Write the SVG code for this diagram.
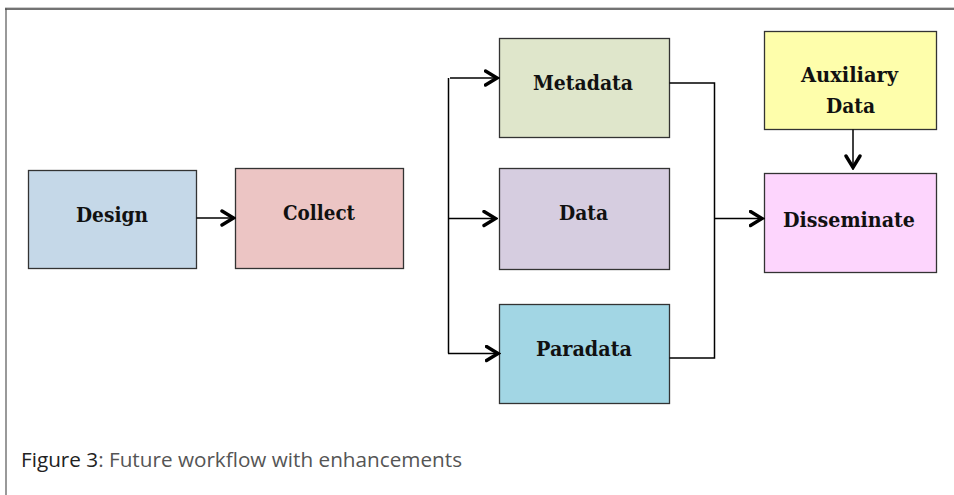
<svg xmlns="http://www.w3.org/2000/svg" width="954" height="495" viewBox="0 0 954 495">
  <defs>
    <marker id="chev" viewBox="0 0 16 18" refX="13.5" refY="9" markerWidth="16" markerHeight="18" markerUnits="userSpaceOnUse" orient="auto">
      <path d="M2,2 L13.5,9 L2,16" fill="none" stroke="#000" stroke-width="3.4" stroke-linecap="round" stroke-linejoin="miter"/>
    </marker>
    <style>
      .box { stroke: #333; stroke-width: 1.3; }
      .lbl { font-family: "DejaVu Serif", "Liberation Serif", serif; font-weight: bold; font-size: 20px; fill: #111; text-anchor: middle; }
      .wire { fill: none; stroke: #000; stroke-width: 1.5; }
      .cap { font-family: "Open Sans", "Noto Sans", sans-serif; font-size: 20.5px; }
    </style>
  </defs>
  <rect width="954" height="495" fill="#fff"/>

  <!-- frame -->
  <line x1="6" y1="8.5" x2="6" y2="495" stroke="#999" stroke-width="2"/>
  <line x1="5" y1="9" x2="954" y2="9" stroke="#444" stroke-width="1.5"/>
  <line x1="5" y1="7.5" x2="954" y2="7.5" stroke="#ccc" stroke-width="1"/>

  <g id="design">
    <rect class="box" x="28.5" y="170.5" width="168" height="98" fill="#c5d8e8"/>
    <text class="lbl" x="112" y="222" textLength="72" lengthAdjust="spacingAndGlyphs">Design</text>
  </g>
  <g id="collect">
    <rect class="box" x="235.5" y="168.5" width="168" height="100" fill="#ecc5c4"/>
    <text class="lbl" x="319" y="220" textLength="72" lengthAdjust="spacingAndGlyphs">Collect</text>
  </g>
  <g id="metadata">
    <rect class="box" x="499.5" y="38.5" width="170" height="99" fill="#dfe6cb"/>
    <text class="lbl" x="583" y="90" textLength="100" lengthAdjust="spacingAndGlyphs">Metadata</text>
  </g>
  <g id="data">
    <rect class="box" x="499.5" y="168.5" width="170" height="101" fill="#d6cde0"/>
    <text class="lbl" x="583.5" y="220" textLength="49" lengthAdjust="spacingAndGlyphs">Data</text>
  </g>
  <g id="paradata">
    <rect class="box" x="499.5" y="304.5" width="170" height="99" fill="#a2d6e4"/>
    <text class="lbl" x="584" y="356" textLength="96" lengthAdjust="spacingAndGlyphs">Paradata</text>
  </g>
  <g id="auxiliary">
    <rect class="box" x="764.5" y="31.5" width="172" height="98" fill="#fefeab"/>
    <text class="lbl" x="849.5" y="82" textLength="97" lengthAdjust="spacingAndGlyphs">Auxiliary</text>
    <text class="lbl" x="850.5" y="113" textLength="49" lengthAdjust="spacingAndGlyphs">Data</text>
  </g>
  <g id="disseminate">
    <rect class="box" x="764.5" y="173.5" width="172" height="99" fill="#fdd5fd"/>
    <text class="lbl" x="849" y="227" textLength="132" lengthAdjust="spacingAndGlyphs">Disseminate</text>
  </g>

  <g id="connectors">
    <line class="wire" x1="196.5" y1="218" x2="233.5" y2="218" marker-end="url(#chev)"/>
    <!-- fan-out bus -->
    <line class="wire" x1="448.5" y1="78" x2="448.5" y2="353.5"/>
    <line class="wire" x1="450" y1="78" x2="497" y2="78" marker-end="url(#chev)"/>
    <line class="wire" x1="448" y1="218.5" x2="495.5" y2="218.5" marker-end="url(#chev)"/>
    <line class="wire" x1="448" y1="353.5" x2="498" y2="353.5" marker-end="url(#chev)"/>
    <!-- fan-in bus -->
    <polyline class="wire" points="669.5,83 714.5,83 714.5,358 669.5,358"/>
    <line class="wire" x1="714.5" y1="218.5" x2="762" y2="218.5" marker-end="url(#chev)"/>
    <line class="wire" x1="853" y1="129.5" x2="853" y2="167.5" marker-end="url(#chev)"/>
  </g>

  <text class="cap" x="21" y="467" textLength="441" lengthAdjust="spacingAndGlyphs"><tspan fill="#222">Figure 3</tspan><tspan fill="#555">: Future workflow with enhancements</tspan></text>
</svg>
